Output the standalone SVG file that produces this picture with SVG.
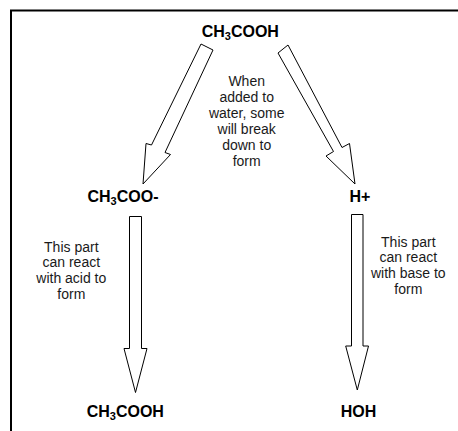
<svg xmlns="http://www.w3.org/2000/svg" width="458" height="431" viewBox="0 0 458 431">
<style>
.lbl{font-family:"Liberation Sans",Arial,sans-serif;font-size:16px;font-weight:bold;fill:#000}
.sub{font-size:11px}
.note{font-family:"Liberation Sans",Arial,sans-serif;font-size:14px;fill:#1a1a1a;text-anchor:middle}
.arrow{fill:#fff;stroke:#000;stroke-width:1;stroke-linejoin:miter}
</style>
<rect x="0" y="0" width="458" height="431" fill="#fff"/>
<rect id="frame" x="11" y="10.5" width="460" height="440" fill="none" stroke="#000" stroke-width="2"/>
<g id="connectors">
<polygon class="arrow" points="201,44 213,50 165,152.5 170.5,154.5 143,184 146,143.5 151.5,145"/>
<polygon class="arrow" points="288,45 278,53 333.5,151.5 326,156 355,184 349.5,143.5 342,147.5"/>
<polygon class="arrow" points="129.5,216.5 141.5,216.5 141.5,348.5 147,348.5 135.5,392.5 124,348.5 129.5,348.5"/>
<polygon class="arrow" points="351.5,214.5 363,214.5 363,346 368.5,346 357.3,390 345.7,346 351.5,346"/>
</g>
<g id="node-top">
<text class="lbl" x="201.7" y="36.5">CH<tspan class="sub" dy="3">3</tspan><tspan dy="-3">COOH</tspan></text>
</g>
<g id="note-top">
<text class="note" x="246.7" y="86">When</text>
<text class="note" x="246.7" y="102">added to</text>
<text class="note" x="246.7" y="118">water, some</text>
<text class="note" x="246.7" y="133.8">will break</text>
<text class="note" x="246.7" y="149.7">down to</text>
<text class="note" x="246.7" y="165.5">form</text>
</g>
<g id="node-acetate">
<text class="lbl" x="87.5" y="201.5">CH<tspan class="sub" dy="3">3</tspan><tspan dy="-3">COO-</tspan></text>
</g>
<g id="node-hplus">
<text class="lbl" x="349.5" y="201.5">H+</text>
</g>
<g id="note-left">
<text class="note" x="71.3" y="251.5">This part</text>
<text class="note" x="71.3" y="267.3">can react</text>
<text class="note" x="71.3" y="283.1">with acid to</text>
<text class="note" x="71.3" y="298.9">form</text>
</g>
<g id="note-right">
<text class="note" x="408.3" y="246.5">This part</text>
<text class="note" x="408.3" y="262.3">can react</text>
<text class="note" x="408.3" y="278.1">with base to</text>
<text class="note" x="408.3" y="293.9">form</text>
</g>
<g id="node-bottom-left">
<text class="lbl" x="86.7" y="416.5">CH<tspan class="sub" dy="3">3</tspan><tspan dy="-3">COOH</tspan></text>
</g>
<g id="node-bottom-right">
<text class="lbl" x="340.7" y="416.5">HOH</text>
</g>
</svg>
